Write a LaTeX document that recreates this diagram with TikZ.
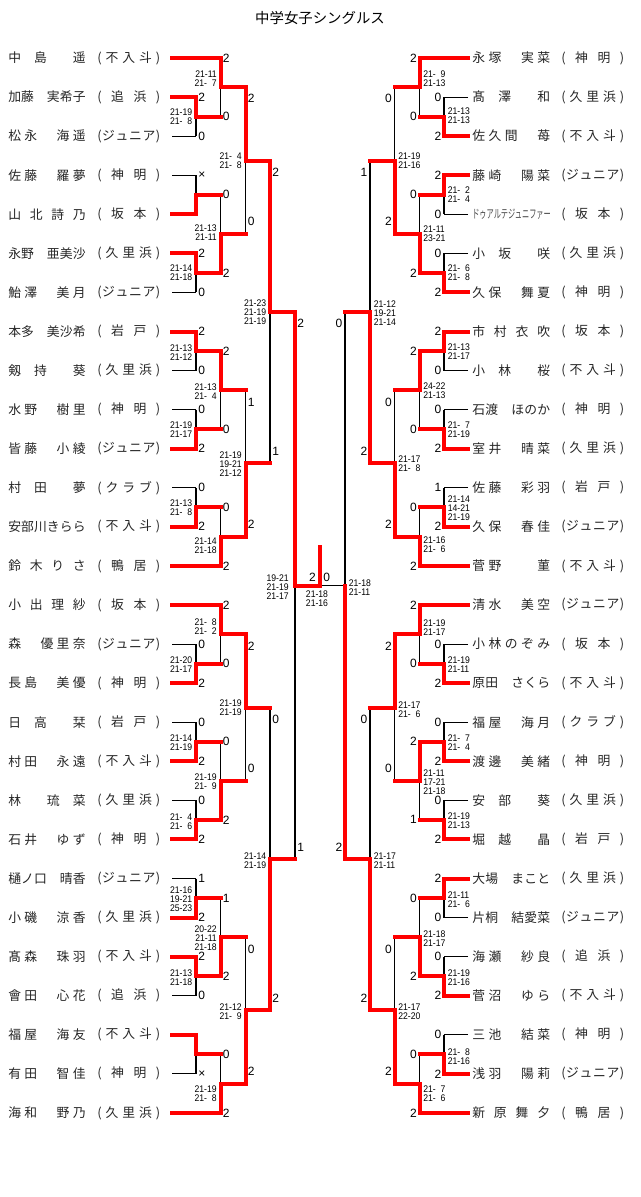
\documentclass[tikz,border=0pt]{standalone}
\usepackage{fontspec}
\usepackage{graphicx}
\setmainfont{Liberation Sans}
\newfontfamily\jp{Noto Sans CJK JP}
\newfontfamily\scf[FakeStretch=0.9]{Liberation Sans}
\def\distend{DISTEND}
\def\distloop#1{\ifx\distend#1\else\hfil#1\expandafter\distloop\fi}
\def\distfirst#1{#1\distloop}
\newcommand\dist[2]{\makebox[#1][s]{\distfirst#2\distend}}
\def\z{\hphantom{0}}
\newcount\nodecnt
\newcommand\nxt{\global\advance\nodecnt by 1\relax}
\pgfdeclarelayer{back}
\pgfdeclarelayer{bg}
\pgfsetlayers{back,bg,main}
\tikzset{
 lose/.style={draw=black,line width=0.8pt},
 win/.style={draw=red,line width=3pt,line cap=rect},
 nm/.style={anchor=west,inner sep=0pt,text=black!85,font=\jp\fontsize{9.6}{10}\selectfont},
 nl/.style={anchor=west,inner sep=0pt,font=\fontsize{9}{9}\selectfont},
 nr/.style={anchor=east,inner sep=0pt,font=\fontsize{9}{9}\selectfont},
 dl/.style={anchor=east,align=right,inner sep=0pt,font=\scf\fontsize{7.2}{6.8}\selectfont},
 dr/.style={anchor=west,align=left,inner sep=0pt,font=\scf\fontsize{7.2}{6.8}\selectfont},
 dc/.style={anchor=center,align=center,inner sep=0pt,font=\scf\fontsize{7.2}{6.8}\selectfont},
}
% players
\newcommand\PL[3]{\nxt\node[nm] (p\the\nodecnt) at (8,#1) {\dist{58pt}{#2}};\nxt\node[nm] (p\the\nodecnt) at (97,#1) {\dist{47.25pt}{#3}};}
\newcommand\PR[3]{\nxt\node[nm] (p\the\nodecnt) at (472,#1) {\dist{58.5pt}{#2}};\nxt\node[nm] (p\the\nodecnt) at (561,#1) {\dist{47.25pt}{#3}};}
% numbers and details
\newcommand\NL[3]{\nxt\node[nl] (s\the\nodecnt) at (#1,#2) {#3};}
\newcommand\NR[3]{\nxt\node[nr] (s\the\nodecnt) at (#1,#2) {#3};}
\newcommand\DL[3]{\nxt\node[dl] (d\the\nodecnt) at (#1,#2) {#3};}
\newcommand\DR[3]{\nxt\node[dr] (d\the\nodecnt) at (#1,#2) {#3};}
% lines
\newcommand\W[3]{\draw[win] (#1,#3) -- (#2,#3);}
\newcommand\B[3]{\begin{pgfonlayer}{bg}\draw[lose] (#1,#3) -- (#2,#3);\end{pgfonlayer}}
\newcommand\M[6]{\begin{pgfonlayer}{bg}\draw[lose] (#1,#3) -- (#1,#4);\end{pgfonlayer}\draw[win] (#1,#5) -- (#1,#6) -- (#2,#6);}
\begin{document}
\begin{tikzpicture}[x=0.75pt,y=-0.75pt]
\begin{pgfonlayer}{back}
\fill[white] (0,0) rectangle (640,1197);
\end{pgfonlayer}
\useasboundingbox (0,0) rectangle (640,1197);
\node[font=\jp\fontsize{10.8}{12}\selectfont] (title) at (320,18) {中学女子シングルス};
% ---------------- left players
\PL{58}{中　島　　遥}{(不入斗)}
\PL{97.1}{加藤　実希子}{(追浜)}
\PL{136.1}{松永　海遥}{(ジュニア)}
\PL{175.2}{佐藤　羅夢}{(神明)}
\PL{214.3}{山北詩乃}{(坂本)}
\PL{253.4}{永野　亜美沙}{(久里浜)}
\PL{292.4}{鮐澤　美月}{(ジュニア)}
\PL{331.5}{本多　美沙希}{(岩戸)}
\PL{370.6}{剱　持　　葵}{(久里浜)}
\PL{409.6}{水野　樹里}{(神明)}
\PL{448.7}{皆藤　小綾}{(ジュニア)}
\PL{487.8}{村　田　　夢}{(クラブ)}
\PL{526.8}{安部川きらら}{(不入斗)}
\PL{565.9}{鈴木りさ}{(鴨居)}
\PL{605}{小出理紗}{(坂本)}
\PL{644.1}{森　優里奈}{(ジュニア)}
\PL{683.1}{長島　美優}{(神明)}
\PL{722.2}{日　高　　栞}{(岩戸)}
\PL{761.3}{村田　永遠}{(不入斗)}
\PL{800.3}{林　　琉　菜}{(久里浜)}
\PL{839.4}{石井　ゆず}{(神明)}
\PL{878.5}{樋ノ口　晴香}{(ジュニア)}
\PL{917.5}{小磯　涼香}{(久里浜)}
\PL{956.6}{髙森　珠羽}{(不入斗)}
\PL{995.7}{會田　心花}{(追浜)}
\PL{1034.8}{福屋　海友}{(不入斗)}
\PL{1073.8}{有田　智佳}{(神明)}
\PL{1112.9}{海和　野乃}{(久里浜)}
% ---------------- right players
\PR{58}{永塚　実菜}{(神明)}
\PR{97.1}{髙　澤　　和}{(久里浜)}
\PR{136.1}{佐久間　苺}{(不入斗)}
\PR{175.2}{藤崎　陽菜}{(ジュニア)}
\nxt\node[anchor=west,inner sep=0pt,text=black!70] (p\the\nodecnt) at (472,214.3) {\scalebox{0.6}[1]{\jp\fontsize{9}{9}\selectfont ドゥアルテジュニファー}};
\nxt\node[nm] (p\the\nodecnt) at (561,214.3) {\dist{47.25pt}{(坂本)}};
\PR{253.4}{小　坂　　咲}{(久里浜)}
\PR{292.4}{久保　舞夏}{(神明)}
\PR{331.5}{市村衣吹}{(坂本)}
\PR{370.6}{小　林　　桜}{(不入斗)}
\PR{409.6}{石渡　ほのか}{(神明)}
\PR{448.7}{室井　晴菜}{(久里浜)}
\PR{487.8}{佐藤　彩羽}{(岩戸)}
\PR{526.8}{久保　春佳}{(ジュニア)}
\PR{565.9}{菅野　　菫}{(不入斗)}
\PR{605}{清水　美空}{(ジュニア)}
\PR{644.1}{小林のぞみ}{(坂本)}
\PR{683.1}{原田　さくら}{(不入斗)}
\PR{722.2}{福屋　海月}{(クラブ)}
\PR{761.3}{渡邊　美緒}{(神明)}
\PR{800.3}{安　部　　葵}{(久里浜)}
\PR{839.4}{堀　越　　晶}{(岩戸)}
\PR{878.5}{大場　まこと}{(久里浜)}
\PR{917.5}{片桐　結愛菜}{(ジュニア)}
\PR{956.6}{海瀬　紗良}{(追浜)}
\PR{995.7}{菅沼　ゆら}{(不入斗)}
\PR{1034.8}{三池　結菜}{(神明)}
\PR{1073.8}{浅羽　陽莉}{(ジュニア)}
\PR{1112.9}{新原舞夕}{(鴨居)}
% ---------------- left player lines
\W{172}{220.5}{58} \W{172}{196}{97.1} \B{172}{196}{136.1} \B{172}{196}{175.2}
\W{172}{196}{214.3} \W{172}{196}{253.4} \B{172}{196}{292.4}
\W{172}{196}{331.5} \B{172}{196}{370.6} \B{172}{196}{409.6} \W{172}{196}{448.7}
\B{172}{196}{487.8} \W{172}{196}{526.8} \W{172}{220.5}{565.9}
\W{172}{220.5}{605} \B{172}{196}{644.1} \W{172}{196}{683.1} \B{172}{196}{722.2}
\W{172}{196}{761.3} \B{172}{196}{800.3} \W{172}{196}{839.4}
\B{172}{196}{878.5} \W{172}{196}{917.5} \W{172}{196}{956.6} \B{172}{196}{995.7}
\W{172}{196}{1034.8} \B{172}{196}{1073.8} \W{172}{220.5}{1112.9}
% ---------------- left matches
\M{196}{220.5}{97.1}{136.1}{97.1}{116.6}
\M{196}{220.5}{175.2}{214.3}{214.3}{194.75}
\M{196}{220.5}{253.4}{292.4}{253.4}{272.9}
\M{196}{220.5}{331.5}{370.6}{331.5}{351.05}
\M{196}{220.5}{409.6}{448.7}{448.7}{429.15}
\M{196}{220.5}{487.8}{526.8}{526.8}{507.3}
\M{196}{220.5}{644.1}{683.1}{683.1}{663.6}
\M{196}{220.5}{722.2}{761.3}{761.3}{741.75}
\M{196}{220.5}{800.3}{839.4}{839.4}{819.85}
\M{196}{220.5}{878.5}{917.5}{917.5}{898}
\M{196}{220.5}{956.6}{995.7}{956.6}{976.15}
\M{196}{220.5}{1034.8}{1073.8}{1034.8}{1054.3}
\M{220.5}{245.5}{58}{116.6}{58}{87.3}
\M{220.5}{245.5}{194.75}{272.9}{272.9}{233.8}
\M{220.5}{245.5}{351.05}{429.15}{351.05}{390.1}
\M{220.5}{245.5}{507.3}{565.9}{565.9}{536.6}
\M{220.5}{245.5}{605}{663.6}{605}{634.3}
\M{220.5}{245.5}{741.75}{819.85}{819.85}{780.8}
\M{220.5}{245.5}{898}{976.15}{976.15}{937.1}
\M{220.5}{245.5}{1054.3}{1112.9}{1112.9}{1083.6}
\M{245.5}{270}{87.3}{233.8}{87.3}{160.6}
\M{245.5}{270}{390.1}{536.6}{536.6}{463.35}
\M{245.5}{270}{634.3}{780.8}{634.3}{707.55}
\M{245.5}{270}{937.1}{1083.6}{1083.6}{1010.35}
\M{270}{295}{160.6}{463.35}{160.6}{311.98}
\M{270}{295}{707.55}{1010.35}{1010.35}{858.95}
\M{295}{320}{311.98}{858.95}{311.98}{585.5}
\draw[win] (320,585.5) -- (320,547);
% ---------------- right player lines
\W{468}{419.5}{58} \B{468}{444}{97.1} \W{468}{444}{136.1} \W{468}{444}{175.2}
\B{468}{444}{214.3} \B{468}{444}{253.4} \W{468}{444}{292.4}
\W{468}{444}{331.5} \B{468}{444}{370.6} \B{468}{444}{409.6} \W{468}{444}{448.7}
\B{468}{444}{487.8} \W{468}{444}{526.8} \W{468}{419.5}{565.9}
\W{468}{419.5}{605} \B{468}{444}{644.1} \W{468}{444}{683.1} \B{468}{444}{722.2}
\W{468}{444}{761.3} \B{468}{444}{800.3} \W{468}{444}{839.4}
\W{468}{444}{878.5} \B{468}{444}{917.5} \B{468}{444}{956.6} \W{468}{444}{995.7}
\B{468}{444}{1034.8} \W{468}{444}{1073.8} \W{468}{419.5}{1112.9}
% ---------------- right matches
\M{444}{419.5}{97.1}{136.1}{136.1}{116.6}
\M{444}{419.5}{175.2}{214.3}{175.2}{194.75}
\M{444}{419.5}{253.4}{292.4}{292.4}{272.9}
\M{444}{419.5}{331.5}{370.6}{331.5}{351.05}
\M{444}{419.5}{409.6}{448.7}{448.7}{429.15}
\M{444}{419.5}{487.8}{526.8}{526.8}{507.3}
\M{444}{419.5}{644.1}{683.1}{683.1}{663.6}
\M{444}{419.5}{722.2}{761.3}{761.3}{741.75}
\M{444}{419.5}{800.3}{839.4}{839.4}{819.85}
\M{444}{419.5}{878.5}{917.5}{878.5}{898}
\M{444}{419.5}{956.6}{995.7}{995.7}{976.15}
\M{444}{419.5}{1034.8}{1073.8}{1073.8}{1054.3}
\M{419.5}{394.5}{58}{116.6}{58}{87.3}
\M{419.5}{394.5}{194.75}{272.9}{272.9}{233.8}
\M{419.5}{394.5}{351.05}{429.15}{351.05}{390.1}
\M{419.5}{394.5}{507.3}{565.9}{565.9}{536.6}
\M{419.5}{394.5}{605}{663.6}{605}{634.3}
\M{419.5}{394.5}{741.75}{819.85}{741.75}{780.8}
\M{419.5}{394.5}{898}{976.15}{976.15}{937.1}
\M{419.5}{394.5}{1054.3}{1112.9}{1112.9}{1083.6}
\M{394.5}{370}{87.3}{233.8}{233.8}{160.6}
\M{394.5}{370}{390.1}{536.6}{536.6}{463.35}
\M{394.5}{370}{634.3}{780.8}{634.3}{707.55}
\M{394.5}{370}{937.1}{1083.6}{1083.6}{1010.35}
\M{370}{345}{160.6}{463.35}{463.35}{311.98}
\M{370}{345}{707.55}{1010.35}{1010.35}{858.95}
\begin{pgfonlayer}{bg}
\draw[lose] (345,311.98) -- (345,858.95);
\draw[lose] (320,585.5) -- (345,585.5);
\end{pgfonlayer}
\draw[win] (345,858.95) -- (345,585.5);
% ---------------- left game scores
\NL{198}{97.1}{2} \NL{198}{136.1}{0} \NL{198}{175.2}{×}
\NL{198}{253.4}{2} \NL{198}{292.4}{0}
\NL{198}{331.5}{2} \NL{198}{370.6}{0}
\NL{198}{409.6}{0} \NL{198}{448.7}{2}
\NL{198}{487.8}{0} \NL{198}{526.8}{2}
\NL{198}{644.1}{0} \NL{198}{683.1}{2}
\NL{198}{722.2}{0} \NL{198}{761.3}{2}
\NL{198}{800.3}{0} \NL{198}{839.4}{2}
\NL{198}{878.5}{1} \NL{198}{917.5}{2}
\NL{198}{956.6}{2} \NL{198}{995.7}{0}
\NL{198}{1073.8}{×}
\NL{222.5}{58}{2} \NL{222.5}{116.6}{0} \NL{222.5}{194.75}{0} \NL{222.5}{272.9}{2}
\NL{222.5}{351.05}{2} \NL{222.5}{429.15}{0} \NL{222.5}{507.3}{0} \NL{222.5}{565.9}{2}
\NL{222.5}{605}{2} \NL{222.5}{663.6}{0} \NL{222.5}{741.75}{0} \NL{222.5}{819.85}{2}
\NL{222.5}{898}{1} \NL{222.5}{976.15}{2} \NL{222.5}{1054.3}{0} \NL{222.5}{1112.9}{2}
\NL{247.5}{98}{2} \NL{247.5}{221.8}{0} \NL{247.5}{402}{1} \NL{247.5}{524}{2}
\NL{247.5}{646}{2} \NL{247.5}{768.5}{0} \NL{247.5}{949}{0} \NL{247.5}{1071.5}{2}
\NL{272}{172.5}{2} \NL{272}{451}{1} \NL{272}{719.5}{0} \NL{272}{998}{2}
\NL{297}{323.5}{2} \NL{297}{847}{1}
\NR{316}{577}{2} \NL{323}{577}{0}
% ---------------- right game scores
\NR{441.5}{97.1}{0} \NR{441.5}{136.1}{2} \NR{441.5}{175.2}{2} \NR{441.5}{214.3}{0}
\NR{441.5}{253.4}{0} \NR{441.5}{292.4}{2} \NR{441.5}{331.5}{2} \NR{441.5}{370.6}{0}
\NR{441.5}{409.6}{0} \NR{441.5}{448.7}{2} \NR{441.5}{487.8}{1} \NR{441.5}{526.8}{2}
\NR{441.5}{644.1}{0} \NR{441.5}{683.1}{2} \NR{441.5}{722.2}{0} \NR{441.5}{761.3}{2}
\NR{441.5}{800.3}{0} \NR{441.5}{839.4}{2} \NR{441.5}{878.5}{2} \NR{441.5}{917.5}{0}
\NR{441.5}{956.6}{0} \NR{441.5}{995.7}{2} \NR{441.5}{1034.8}{0} \NR{441.5}{1073.8}{2}
\NR{417}{58}{2} \NR{417}{116.6}{0} \NR{417}{194.75}{0} \NR{417}{272.9}{2}
\NR{417}{351.05}{2} \NR{417}{429.15}{0} \NR{417}{507.3}{0} \NR{417}{565.9}{2}
\NR{417}{605}{2} \NR{417}{663.6}{0} \NR{417}{741.75}{2} \NR{417}{819.85}{1}
\NR{417}{898}{0} \NR{417}{976.15}{2} \NR{417}{1054.3}{0} \NR{417}{1112.9}{2}
\NR{392}{98}{0} \NR{392}{221.8}{2} \NR{392}{402}{0} \NR{392}{524}{2}
\NR{392}{646}{2} \NR{392}{768.5}{0} \NR{392}{949}{0} \NR{392}{1071.5}{2}
\NR{367.5}{172.5}{1} \NR{367.5}{451}{2} \NR{367.5}{719.5}{0} \NR{367.5}{998}{2}
\NR{342.5}{323.5}{0} \NR{342.5}{847}{2}
% ---------------- left set details
\DL{192.5}{116.6}{21-19\\21-\z8}
\DL{192.5}{273}{21-14\\21-18}
\DL{192.5}{352.5}{21-13\\21-12}
\DL{192.5}{430}{21-19\\21-17}
\DL{192.5}{508}{21-13\\21-\z8}
\DL{192.5}{665}{21-20\\21-17}
\DL{192.5}{743}{21-14\\21-19}
\DL{192.5}{821.5}{21-\z4\\21-\z6}
\DL{192.5}{899.5}{21-16\\19-21\\25-23}
\DL{192.5}{977.5}{21-13\\21-18}
\DL{217}{79}{21-11\\21-\z7}
\DL{217}{233}{21-13\\21-11}
\DL{217}{391.5}{21-13\\21-\z4}
\DL{217}{546}{21-14\\21-18}
\DL{217}{626.5}{21-\z8\\21-\z2}
\DL{217}{782}{21-19\\21-\z9}
\DL{217}{938.5}{20-22\\21-11\\21-18}
\DL{217}{1094}{21-19\\21-\z8}
\DL{242}{161}{21-\z4\\21-\z8}
\DL{242}{464.5}{21-19\\19-21\\21-12}
\DL{242}{708}{21-19\\21-19}
\DL{242}{1012}{21-12\\21-\z9}
\DL{266.5}{312.5}{21-23\\21-19\\21-19}
\DL{266.5}{860.5}{21-14\\21-19}
\DL{289}{587}{19-21\\21-19\\21-17}
\nxt\node[dc] (d\the\nodecnt) at (317,599) {21-18\\21-16};
% ---------------- right set details
\DR{447.5}{116}{21-13\\21-13}
\DR{447.5}{195}{21-\z2\\21-\z4}
\DR{447.5}{273}{21-\z6\\21-\z8}
\DR{447.5}{351.5}{21-13\\21-17}
\DR{447.5}{429.5}{21-\z7\\21-19}
\DR{447.5}{508.5}{21-14\\14-21\\21-19}
\DR{447.5}{665}{21-19\\21-11}
\DR{447.5}{742.5}{21-\z7\\21-\z4}
\DR{447.5}{820.5}{21-19\\21-13}
\DR{447.5}{900}{21-11\\21-\z6}
\DR{447.5}{978}{21-19\\21-16}
\DR{447.5}{1056.5}{21-\z8\\21-16}
\DR{423}{79}{21-\z9\\21-13}
\DR{423}{233.5}{21-11\\23-21}
\DR{423}{391}{24-22\\21-13}
\DR{423}{545}{21-16\\21-\z6}
\DR{423}{627.5}{21-19\\21-17}
\DR{423}{782}{21-11\\17-21\\21-18}
\DR{423}{939}{21-18\\21-17}
\DR{423}{1094}{21-\z7\\21-\z6}
\DR{398}{161}{21-19\\21-16}
\DR{398}{463.5}{21-17\\21-\z8}
\DR{398}{709.5}{21-17\\21-\z6}
\DR{398}{1012}{21-17\\22-20}
\DR{373.5}{313}{21-12\\19-21\\21-14}
\DR{373.5}{860.5}{21-17\\21-11}
\DR{348.5}{587.5}{21-18\\21-11}
\end{tikzpicture}
\end{document}
